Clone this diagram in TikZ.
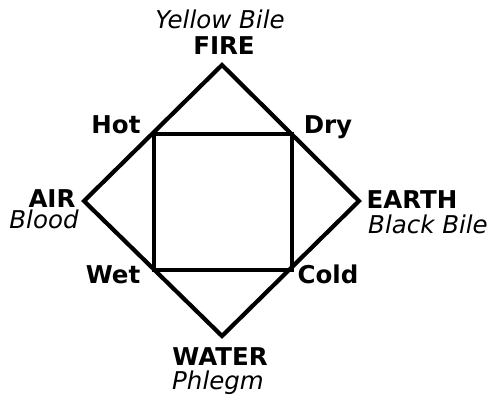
\documentclass[tikz,border=0pt]{standalone}
\usepackage{fontspec}
\setmainfont{DejaVu Sans}
\begin{document}
\begin{tikzpicture}[x=1pt,y=-1pt,
  lbl/.style={anchor=base,inner sep=0pt,font=\fontsize{24.5}{26}\selectfont\bfseries},
  sub/.style={anchor=base,inner sep=0pt,font=\fontsize{24.5}{26}\selectfont\itshape},
  edge/.style={line width=4.2pt,line join=miter,line cap=round}]
\useasboundingbox (0,0) rectangle (492,400);
\coordinate (hot) at (154,134);
\coordinate (dry) at (292,134);
\coordinate (cold) at (292,270);
\coordinate (wet) at (154,270);
\coordinate (fire) at (222,65);
\coordinate (earth) at (359,201);
\coordinate (water) at (222,336);
\coordinate (air) at (84,201);
\draw[edge] (hot) -- (dry) -- (cold) -- (wet) -- cycle;
\draw[edge] (fire) -- (earth) -- (water) -- (air) -- cycle;
\node[sub] (yb) at (220,28) {Yellow Bile};
\node[lbl] (fi) at (224,54) {FIRE};
\node[lbl] (ho) at (116,133) {Hot};
\node[lbl] (dr) at (328,133) {Dry};
\node[lbl] (ai) at (52,207) {AIR};
\node[sub] (bl) at (44,228) {Blood};
\node[lbl] (ea) at (412,208) {EARTH};
\node[sub] (bb) at (428,233) {Black Bile};
\node[lbl] (we) at (113,283) {Wet};
\node[lbl] (co) at (328,283) {Cold};
\node[lbl] (wa) at (220,365) {WATER};
\node[sub] (ph) at (218,389) {Phlegm};
\end{tikzpicture}
\end{document}
